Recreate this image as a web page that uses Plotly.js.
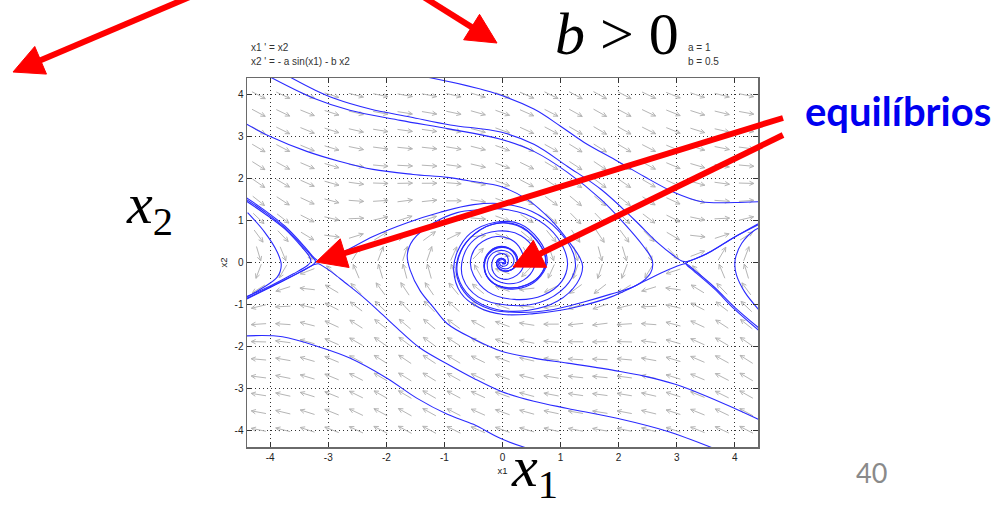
<!DOCTYPE html>
<html>
<head>
<meta charset="utf-8">
<script src="https://cdn.plot.ly/plotly-3.0.1.min.js"></script>
<style>
  html, body { margin: 0; padding: 0; background: #ffffff; }
  #plot { width: 1005px; height: 508px; }
</style>
</head>
<body>
<div id="plot"></div>
<script>
// Pendulum with friction: x1' = x2, x2' = -a sin(x1) - b x2
const paramA = 1;
const paramB = 0.5;

// Sample points of the direction field
const fieldX = [-4.2, -3.78, -3.36, -2.94, -2.52, -2.1, -1.68, -1.26, -0.84, -0.42, 0,
                0.42, 0.84, 1.26, 1.68, 2.1, 2.52, 2.94, 3.36, 3.78, 4.2];
const fieldY = [-3.99, -3.57, -3.15, -2.73, -2.31, -1.89, -1.47, -1.05, -0.63, -0.21,
                0.21, 0.63, 1.05, 1.47, 1.89, 2.31, 2.73, 3.15, 3.57, 3.99];

// Axis ticks
const tickVals = [-4, -3, -2, -1, 0, 1, 2, 3, 4];
const tickText = ['-4', '-3', '-2', '-1', '0', '1', '2', '3', '4'];

// Solution curves, as [x1, x2] points
const orbitTopA = [[-3.67,4.43],[-3.24,4.12],[-2.89,3.91],[-2.28,3.66],[-1.59,3.47],[-0.90,3.28],[-0.03,3.11],
  [0.54,2.82],[1.12,2.29],[1.70,1.74],[2.27,1.02],[2.68,0.46],[2.95,0.16],[3.10,0.03],[3.18,0.02],[3.30,0.08],
  [3.60,0.27],[4.00,0.61],[4.46,0.94]];

const orbitTopB = [[-4.01,4.43],[-3.24,3.91],[-2.63,3.63],[-1.76,3.39],[-0.90,3.18],[-0.03,2.94],[0.54,2.65],
  [1.12,2.15],[1.70,1.50],[2.09,0.94],[2.42,0.40],[2.58,0.05],[2.55,-0.25],[2.30,-0.55],[1.85,-0.76],[1.40,-0.94],
  [0.88,-1.12],[0.31,-1.19],[-0.20,-1.12],[-0.60,-0.80],[-0.79,-0.30],[-0.77,0.10],[-0.58,0.55],[-0.20,0.90],
  [0.25,0.88],[0.60,0.50],[0.75,0.05],[0.64,-0.32],[0.36,-0.56],[0.00,-0.59],[-0.25,-0.36],[-0.31,-0.05],
  [-0.23,0.22],[-0.02,0.36],[0.18,0.28],[0.26,0.05],[0.18,-0.15],[0.03,-0.20],[-0.08,-0.10],[-0.09,0.03],
  [-0.02,0.10],[0.05,0.05],[0.04,-0.03],[0,0]];

const orbitLeftTop = [[-4.41,3.30],[-4.01,3.01],[-3.37,2.65],[-2.80,2.41],[-2.23,2.22],[-1.54,2.10],[-0.95,2.03],
  [-0.50,1.93],[-0.03,1.81],[0.43,1.50],[0.83,1.02],[1.12,0.54],[1.33,0.12],[1.38,-0.10],[1.28,-0.50],[0.95,-0.92],
  [0.45,-1.14],[-0.10,-1.12],[-0.55,-0.82],[-0.77,-0.32],[-0.76,0.10],[-0.56,0.58],[-0.15,0.92],[0.25,0.90],
  [0.58,0.55],[0.74,0.08],[0.66,-0.28],[0.42,-0.53],[0.08,-0.60],[-0.20,-0.45],[-0.31,-0.15],[-0.27,0.15],
  [-0.10,0.36],[0.12,0.32],[0.24,0.10],[0.22,-0.10],[0.08,-0.20],[-0.06,-0.15],[-0.10,0.00],[-0.04,0.09],
  [0.04,0.06],[0.05,-0.02],[0,-0.03],[0,0]];

const orbitLowerRight = [[4.41,-3.74],[4.00,-3.48],[3.43,-3.14],[2.96,-2.90],[2.44,-2.71],[1.99,-2.59],[1.12,-2.40],
  [0.54,-2.28],[-0.03,-2.11],[-0.50,-1.82],[-0.95,-1.46],[-1.19,-1.07],[-1.42,-0.67],[-1.59,-0.18],[-1.64,0.18],
  [-1.54,0.54],[-1.19,0.94],[-0.78,1.19],[-0.38,1.26],[-0.03,1.28],[0.40,1.15],[0.80,0.82],[1.05,0.35],[1.12,-0.05],
  [1.02,-0.45],[0.70,-0.78],[0.20,-0.88],[-0.25,-0.70],[-0.50,-0.30],[-0.55,0.05],[-0.42,0.42],[-0.10,0.62],
  [0.20,0.50],[0.35,0.20],[0.37,-0.05],[0.25,-0.30],[0.02,-0.40],[-0.15,-0.25],[-0.18,0.00],[-0.10,0.18],
  [0.04,0.20],[0.10,0.05],[0.07,-0.07],[-0.02,-0.08],[-0.05,0.00],[0,0]];

const orbitSaddleLeftUp = [[-4.45,1.58],[-4.10,1.25],[-3.75,0.87],[-3.41,0.38],[-3.25,0.12],[-3.16,0.03],[-3.08,0.04],
  [-2.90,0.14],[-2.60,0.35],[-2.23,0.62],[-1.64,0.95],[-1.07,1.20],[-0.50,1.38],[0.00,1.40],[0.50,1.22],[0.95,0.78],
  [1.22,0.22],[1.25,-0.15],[1.08,-0.58],[0.65,-0.95],[0.10,-1.02],[-0.42,-0.82],[-0.68,-0.38],[-0.68,0.12],
  [-0.48,0.55],[-0.08,0.75],[0.32,0.64],[0.55,0.28],[0.55,-0.10],[0.36,-0.42],[0.06,-0.50],[-0.20,-0.32],
  [-0.26,0.00],[-0.16,0.23],[0.04,0.28],[0.18,0.14],[0.18,-0.05],[0.07,-0.15],[-0.05,-0.10],[-0.07,0.02],
  [0.00,0.07],[0.04,0.01],[0,0]];

const orbitSaddleRightIn = [[4.43,-1.58],[4.00,-1.07],[3.65,-0.59],[3.30,-0.18],[3.16,-0.03],[3.10,-0.04],
  [2.98,-0.10],[2.73,-0.25],[2.44,-0.45],[1.87,-0.82],[1.40,-1.02],[1.00,-1.14],[0.54,-1.22],[0.02,-1.24],
  [-0.40,-1.08],[-0.72,-0.72],[-0.84,-0.20],[-0.78,0.25],[-0.55,0.70],[-0.12,0.96],[0.30,0.92],[0.62,0.55],
  [0.77,0.05],[0.66,-0.32],[0.40,-0.58],[0.05,-0.62],[-0.22,-0.42],[-0.32,-0.10],[-0.26,0.20],[-0.06,0.38],
  [0.15,0.31],[0.26,0.08],[0.20,-0.13],[0.05,-0.21],[-0.07,-0.13],[-0.10,0.02],[-0.03,0.10],[0.04,0.06],
  [0.05,-0.02],[0,0]];

const orbitSaddleRightOut = [[4.43,-1.64],[4.00,-1.12],[3.65,-0.63],[3.30,-0.21],[3.17,-0.05],[3.16,0.00],
  [3.22,0.04],[3.45,0.16],[3.75,0.40],[4.05,0.65],[4.46,0.97]];

const orbitRightBend = [[4.46,0.84],[4.34,0.77],[4.12,0.46],[4.02,0.15],[4.00,-0.05],[4.03,-0.30],[4.17,-0.70],[4.41,-1.12]];

const orbitSaddleLeftV1 = [[-4.45,1.54],[-4.10,1.21],[-3.75,0.83],[-3.41,0.34],[-3.27,0.12],[-3.22,0.03],
  [-3.26,-0.05],[-3.45,-0.20],[-3.75,-0.42],[-4.10,-0.66],[-4.45,-0.90]];

const orbitSaddleLeftV2 = [[-4.45,1.50],[-4.10,1.17],[-3.75,0.80],[-3.45,0.36],[-3.33,0.15],[-3.30,0.03],
  [-3.35,-0.06],[-3.60,-0.27],[-4.00,-0.56],[-4.45,-0.84]];

const orbitSaddleLeftIn = [[3.65,-4.44],[2.85,-4.03],[1.99,-3.72],[1.12,-3.48],[0.54,-3.31],[-0.03,-3.07],
  [-0.50,-2.76],[-0.95,-2.42],[-1.42,-2.04],[-1.82,-1.56],[-2.06,-1.25],[-2.37,-0.86],[-2.72,-0.47],[-2.94,-0.23],
  [-3.10,-0.08],[-3.17,-0.03],[-3.24,-0.05],[-3.50,-0.24],[-3.90,-0.52],[-4.45,-0.88]];

const orbitLeftBend = [[-4.39,1.19],[-4.10,0.73],[-3.88,0.25],[-3.81,-0.06],[-3.88,-0.35],[-4.15,-0.62],[-4.41,-0.83]];

const orbitLowerLeft = [[-4.41,-1.75],[-3.79,-1.77],[-3.10,-2.04],[-2.63,-2.28],[-1.99,-2.76],[-1.47,-3.24],
  [-0.95,-3.62],[-0.50,-3.86],[-0.03,-4.20],[0.45,-4.44]];

const orbitTopRight = [[-1.33,4.43],[-0.21,4.07],[0.54,3.66],[1.00,3.25],[1.40,2.87],[1.99,2.41],[2.44,2.05],
  [2.96,1.67],[3.43,1.45],[4.00,1.43],[4.43,1.45]];

const orbits = [orbitTopA, orbitTopB, orbitLeftTop, orbitLowerRight, orbitSaddleLeftUp, orbitSaddleRightIn,
  orbitSaddleRightOut, orbitRightBend, orbitSaddleLeftV1, orbitSaddleLeftV2, orbitSaddleLeftIn, orbitLeftBend,
  orbitLowerLeft, orbitTopRight];

// Figure geometry
const FIG_W = 1005, FIG_H = 508;
const M = { l: 247, r: 247, t: 78, b: 61 };
const PW = FIG_W - M.l - M.r, PH = FIG_H - M.t - M.b;
const xRange = [-4.4, 4.4], yRange = [-4.4, 4.4];
const sx = PW / (xRange[1] - xRange[0]);
const sy = PH / (yRange[1] - yRange[0]);
const paperX = px => (px - M.l) / PW;
const paperY = py => (FIG_H - M.b - py) / PH;

const SANS = 'Liberation Sans, Arial, sans-serif';
const SERIF = 'Liberation Serif, Times New Roman, serif';

// Direction field: fixed-length arrows (in screen pixels) with open heads
const ARROW_LEN = 15, HEAD_LEN = 5, HEAD_ANG = 0.45;
const fx = [], fy = [];
fieldX.forEach(x => {
  fieldY.forEach(y => {
    const d1 = y;
    const d2 = -paramA * Math.sin(x) - paramB * y;
    let ux = d1 * sx, uy = d2 * sy;
    const n = Math.hypot(ux, uy) || 1;
    ux /= n; uy /= n;
    const toX = p => x + p / sx, toY = p => y + p / sy;
    const tipX = ux * ARROW_LEN / 2, tipY = uy * ARROW_LEN / 2;
    fx.push(toX(-tipX), toX(tipX), null);
    fy.push(toY(-tipY), toY(tipY), null);
    const hx = [], hy = [];
    [1, -1].forEach(s => {
      const c = Math.cos(s * HEAD_ANG), si = Math.sin(s * HEAD_ANG);
      const bx = -ux * c + uy * si, by = -ux * si - uy * c;
      hx.push(tipX + bx * HEAD_LEN);
      hy.push(tipY + by * HEAD_LEN);
    });
    fx.push(toX(hx[0]), toX(tipX), toX(hx[1]), null);
    fy.push(toY(hy[0]), toY(tipY), toY(hy[1]), null);
  });
});

const traces = [{
  type: 'scatter', mode: 'lines', x: fx, y: fy,
  line: { color: '#b5b5b5', width: 1 }, hoverinfo: 'skip', showlegend: false
}];
orbits.forEach(o => {
  traces.push({
    type: 'scatter', mode: 'lines',
    x: o.map(p => p[0]), y: o.map(p => p[1]),
    line: { color: '#2a2aff', width: 1.1, shape: 'spline', smoothing: 1 },
    hoverinfo: 'skip', showlegend: false
  });
});

function axisStyle(range, titleText, standoff) {
  return {
    range: range, tickvals: tickVals, ticktext: tickText,
    ticks: 'inside', ticklen: 5, tickwidth: 1, tickcolor: '#333333',
    showline: true, linecolor: '#6a6a6a', linewidth: 1.5, mirror: 'ticks',
    showgrid: true, gridcolor: '#333333', gridwidth: 1, griddash: '1px,3px',
    zeroline: false, fixedrange: true,
    tickfont: { family: SANS, size: 10, color: '#222222' },
    title: { text: titleText, font: { family: SANS, size: 9.5, color: '#222222' }, standoff: standoff }
  };
}

// Red pointer arrows: tip and tail in page pixels, drawn as a shaft plus a filled head
const pointers = [
  { tip: [13, 72], tail: [192, -4] },
  { tip: [497, 43], tail: [422, -4] },
  { tip: [316, 262], tail: [783, 118] },
  { tip: [513, 267], tail: [783, 135] }
];
const POINTER_HEAD = 30, POINTER_HALF = 15, POINTER_WIDTH = 6;
const shapes = [];
pointers.forEach(p => {
  const dx = p.tip[0] - p.tail[0], dy = p.tip[1] - p.tail[1];
  const len = Math.hypot(dx, dy);
  const ux = dx / len, uy = dy / len;
  const baseX = p.tip[0] - ux * POINTER_HEAD, baseY = p.tip[1] - uy * POINTER_HEAD;
  shapes.push({
    type: 'line', xref: 'paper', yref: 'paper', layer: 'above',
    x0: paperX(p.tail[0]), y0: paperY(p.tail[1]),
    x1: paperX(baseX + ux * 2), y1: paperY(baseY + uy * 2),
    line: { color: '#ff0000', width: POINTER_WIDTH }
  });
  const c1 = [baseX - uy * POINTER_HALF, baseY + ux * POINTER_HALF];
  const c2 = [baseX + uy * POINTER_HALF, baseY - ux * POINTER_HALF];
  shapes.push({
    type: 'path', xref: 'paper', yref: 'paper', layer: 'above',
    path: 'M' + paperX(p.tip[0]) + ',' + paperY(p.tip[1]) +
          'L' + paperX(c1[0]) + ',' + paperY(c1[1]) +
          'L' + paperX(c2[0]) + ',' + paperY(c2[1]) + 'Z',
    fillcolor: '#ff0000', line: { color: '#ff0000', width: 1 }
  });
});

function label(text, px, py, font, xanchor) {
  return {
    xref: 'paper', yref: 'paper', x: paperX(px), y: paperY(py),
    xanchor: xanchor || 'left', yanchor: 'middle', text: text, showarrow: false, font: font
  };
}

const smallFont = { family: SANS, size: 10, color: '#333333' };
const annotations = [
  label("x1 ' = x2", 249, 47, smallFont),
  label("x2 ' = - a sin(x1) - b x2", 249, 61, smallFont),
  label('a = 1', 686, 47, smallFont),
  label('b = 0.5', 686, 61, smallFont),
  label('<i>b</i> &gt; 0', 553, 34, { family: SERIF, size: 60, color: '#000000' }),
  label('<i>x</i><sub>2</sub>', 124, 207, { family: SERIF, size: 58, color: '#000000' }),
  label('<i>x</i><sub>1</sub>', 509, 470, { family: SERIF, size: 58, color: '#000000' }),
  label('equilíbrios', 803, 111, { family: 'Lato, Open Sans, sans-serif', size: 40, color: '#0000f0', weight: 'bold' }),
  label('40', 854, 472, { family: 'Lato, Open Sans, sans-serif', size: 27, color: '#8a8a8a' })
];

const layout = {
  width: FIG_W, height: FIG_H,
  margin: M,
  paper_bgcolor: '#ffffff', plot_bgcolor: '#ffffff',
  showlegend: false,
  xaxis: axisStyle(xRange, 'x1', 6),
  yaxis: axisStyle(yRange, 'x2', 5),
  annotations: annotations,
  shapes: shapes
};

Plotly.newPlot('plot', traces, layout, { staticPlot: true, displayModeBar: false });
</script>
</body>
</html>
